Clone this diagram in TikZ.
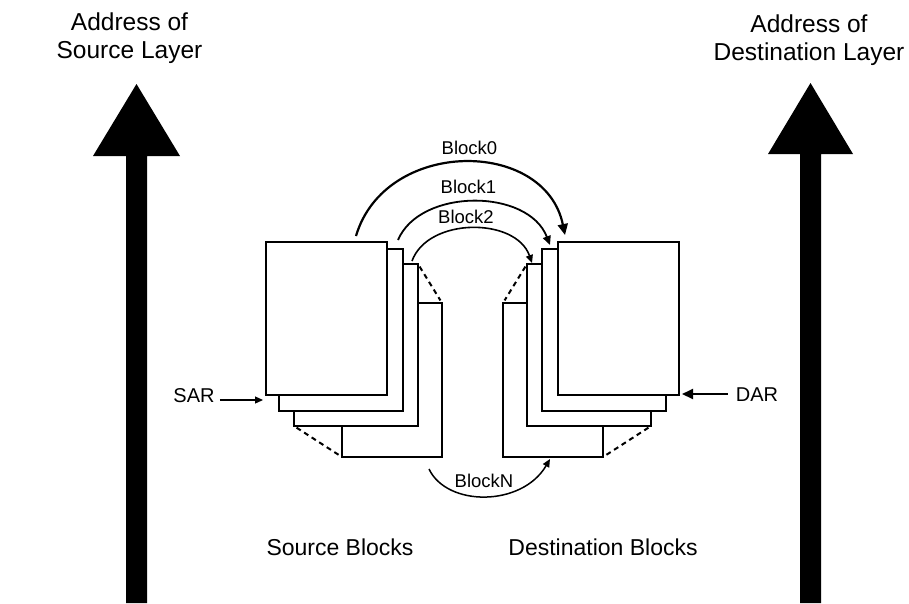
\documentclass[tikz,border=0pt]{standalone}
\usepackage{fontspec}
\setmainfont{Liberation Sans}
\usetikzlibrary{arrows.meta}
\begin{document}
\begin{tikzpicture}[x=1pt,y=-1pt,
  blk/.style={draw,fill=white,line width=2.3pt,inner sep=0pt,outer sep=0pt},
  dsh/.style={line width=2pt,dash pattern=on 5pt off 4pt,shorten <=3pt,shorten >=3pt},
  big/.style={font=\fontsize{24.5}{28}\selectfont,align=center,inner sep=0pt},
  lbl/.style={font=\fontsize{18.5}{21}\selectfont,inner sep=0pt},
  grp/.style={font=\fontsize{23}{26}\selectfont,inner sep=0pt},
  arc/.style={line width=1.8pt,-{Triangle[length=9pt,width=8pt]}}
]
\useasboundingbox (0,0) rectangle (909,603);
% big address arrows
\coordinate (stip) at (136.5,84);
\coordinate (dtip) at (810.5,83);
\fill (126,603) -- (126,156) -- (93,156) -- (stip) -- (180,156) -- (147,156) -- (147,603) -- cycle;
\fill (800,603) -- (800,154) -- (768,154) -- (dtip) -- (853,154) -- (821,154) -- (821,603) -- cycle;
\node[big] (srcaddr) at (129.5,38.5) {Address of\\Source Layer};
\node[big] (dstaddr) at (809,40) {Address of\\Destination Layer};
% source blocks
\node[blk,minimum width=100pt,minimum height=154pt] (s4) at (392,380) {};
\node[blk,minimum width=124pt,minimum height=162pt] (s3) at (356,345) {};
\node[blk,minimum width=124pt,minimum height=162pt] (s2) at (341,330) {};
\node[blk,minimum width=121pt,minimum height=153pt] (s1) at (326.5,318.5) {};
\draw[dsh] (s3.north east) -- (s4.north east);
\draw[dsh] (s3.south west) -- (s4.south west);
% destination blocks
\node[blk,minimum width=100pt,minimum height=154pt] (d4) at (553,380) {};
\node[blk,minimum width=124pt,minimum height=162pt] (d3) at (589,345) {};
\node[blk,minimum width=124pt,minimum height=162pt] (d2) at (604,330) {};
\node[blk,minimum width=121pt,minimum height=153pt] (d1) at (618.5,318.5) {};
\draw[dsh] (d3.north west) -- (d4.north west);
\draw[dsh] (d3.south east) -- (d4.south east);
% transfer arcs
\coordinate (a0s) at (356,236); \coordinate (a0e) at (565,235);
\coordinate (a1s) at (398,240); \coordinate (a1e) at (550,245);
\coordinate (a2s) at (412,261); \coordinate (a2e) at (532,263);
\coordinate (ans) at (429,469); \coordinate (ane) at (550,459);
\draw[arc,line width=2.2pt,-{Triangle[length=11pt,width=10pt]}] (a0s) .. controls (385,138) and (545,138) .. (a0e);
\draw[arc] (a1s) .. controls (420,188) and (528,188) .. (a1e);
\draw[arc,line width=1.6pt,-{Triangle[length=8pt,width=7pt]}] (a2s) .. controls (428,217) and (516,217) .. (a2e);
\draw[arc,line width=1.5pt,-{Triangle[length=8pt,width=7pt]}] (ans) .. controls (447,507) and (522,507) .. (ane);
\node[lbl] (b0) at (469.5,148) {Block0};
\node[lbl] (b1) at (468.5,187) {Block1};
\node[lbl] (b2) at (466,217) {Block2};
\node[lbl] (bn) at (484,481) {BlockN};
% SAR / DAR
\node[font=\fontsize{20}{22}\selectfont,inner sep=0pt] (sar) at (194,396) {SAR};
\node[font=\fontsize{20}{22}\selectfont,inner sep=0pt] (dar) at (757,395) {DAR};
\coordinate (sartip) at (263,400);
\coordinate (dartip) at (682,394);
\draw[line width=1.2pt,-{Triangle[length=8pt,width=7pt]}] (sar.east |- sartip) ++(5,0) -- (sartip);
\draw[line width=2pt,-{Triangle[length=11pt,width=10pt]}] (dar.west |- dartip) ++(-8,0) -- (dartip);
% group labels
\node[grp] (srcblk) at (340,547) {Source Blocks};
\node[grp] (dstblk) at (603,547) {Destination Blocks};
\end{tikzpicture}
\end{document}
